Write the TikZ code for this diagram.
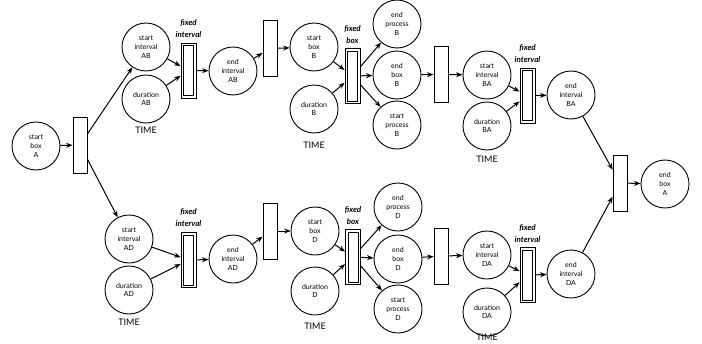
\documentclass[tikz,border=0pt]{standalone}
\usepackage{fontspec}
\setmainfont{Lato}
\usetikzlibrary{arrows.meta}
\begin{document}
\begin{tikzpicture}[x=1pt,y=-1pt,
  place/.style={circle, draw, line width=0.9pt, minimum size=48pt, inner sep=0pt, align=center, font=\fontsize{7}{8.8}\selectfont},
  trans/.style={rectangle, draw, line width=0.8pt, minimum width=14pt, minimum height=56pt, inner sep=0pt},
  fixedt/.style={rectangle, draw, line width=0.8pt, minimum width=15pt, minimum height=55pt, inner sep=0pt,
    path picture={\draw[line width=0.8pt] ([shift={(2.6pt,2.6pt)}]path picture bounding box.south west) rectangle ([shift={(-2.6pt,-2.6pt)}]path picture bounding box.north east);}},
  lbl/.style={font=\bfseries\itshape\fontsize{8}{12}\selectfont, align=center, inner sep=0pt},
  timel/.style={font=\fontsize{9}{10}\selectfont, inner sep=0pt},
  arr/.style={-{Stealth[length=6.5pt,width=5pt]}, line width=1pt}]
\useasboundingbox (0,0) rectangle (702,343);
% top row
\node[place] (sbA) at (36,146) {start\\box\\A};
\node[trans] (t1) at (80,145) {};
\node[place] (siAB) at (146,47) {start\\interval\\AB};
\node[place] (dAB) at (146,99) {duration\\AB};
\node[timel] (timeAB) at (146,130) {TIME};
\node[fixedt] (fAB) at (188.5,70.5) {};
\node[lbl] (lAB) at (188.5,29) {fixed\\interval};
\node[place] (eiAB) at (233,71) {end\\interval\\AB};
\node[trans] (t2) at (270,48.5) {};
\node[place] (sbB) at (314,47) {start\\box\\B};
\node[place] (dB) at (314,109) {duration\\B};
\node[timel] (timeB) at (314,145) {TIME};
\node[fixedt] (fB) at (352.5,76) {};
\node[lbl] (lB) at (352.5,34.5) {fixed\\box};
\node[place] (epB) at (397,24) {end\\process\\B};
\node[place] (ebB) at (397,75) {end\\box\\B};
\node[place] (spB) at (397,125) {start\\process\\B};
\node[trans] (t3) at (441,74.5) {};
\node[place] (siBA) at (487,75) {start\\interval\\BA};
\node[place] (dBA) at (487,126) {duration\\BA};
\node[timel] (timeBA) at (487,159) {TIME};
\node[fixedt] (fBA) at (527.5,95.5) {};
\node[lbl] (lBA) at (527.5,54) {fixed\\interval};
\node[place] (eiBA) at (571,95) {end\\interval\\BA};
\node[trans] (tf) at (620,183) {};
\node[place] (ebA) at (665,184) {end\\box\\A};
% bottom row
\node[place] (siAD) at (129,239) {start\\interval\\AD};
\node[place] (dAD) at (129,290) {duration\\AD};
\node[timel] (timeAD) at (129,322) {TIME};
\node[fixedt] (fAD) at (188.5,260) {};
\node[lbl] (lAD) at (188.5,217.5) {fixed\\interval};
\node[place] (eiAD) at (233,259) {end\\interval\\AD};
\node[trans] (t4) at (270,231) {};
\node[place] (sbD) at (315,231) {start\\box\\D};
\node[place] (dD) at (315,291) {duration\\D};
\node[timel] (timeD) at (315,326) {TIME};
\node[fixedt] (fD) at (353,257) {};
\node[lbl] (lD) at (353,216) {fixed\\box};
\node[place] (epD) at (398,207) {end\\process\\D};
\node[place] (ebD) at (398,259) {end\\box\\D};
\node[place] (spD) at (398,309) {start\\process\\D};
\node[trans] (t5) at (441,256) {};
\node[place] (siDA) at (487,255) {start\\interval\\DA};
\node[place] (dDA) at (487,312) {duration\\DA};
\node[timel] (timeDA) at (487,337) {TIME};
\node[fixedt] (fDA) at (527.5,275) {};
\node[lbl] (lDA) at (527.5,234) {fixed\\interval};
\node[place] (eiDA) at (571,274) {end\\interval\\DA};
% arcs
\draw[arr] (sbA) -- (t1);
\draw[arr] (t1) -- (siAB);
\draw[arr] (t1) -- (siAD);
\draw[arr] (siAB) -- (fAB);
\draw[arr] (dAB) -- (fAB);
\draw[arr] (fAB) -- (eiAB);
\draw[arr] (eiAB) -- (t2);
\draw[arr] (t2) -- (sbB);
\draw[arr] (sbB) -- (fB);
\draw[arr] (dB) -- (fB);
\draw[arr] (fB) -- (epB);
\draw[arr] (fB) -- (ebB);
\draw[arr] (fB) -- (spB);
\draw[arr] (ebB) -- (t3);
\draw[arr] (t3) -- (siBA);
\draw[arr] (siBA) -- (fBA);
\draw[arr] (dBA) -- (fBA);
\draw[arr] (fBA) -- (eiBA);
\draw[arr] (eiBA) -- (tf);
\draw[arr] (siAD) -- (fAD);
\draw[arr] (dAD) -- (fAD);
\draw[arr] (fAD) -- (eiAD);
\draw[arr] (eiAD) -- (t4);
\draw[arr] (t4) -- (sbD);
\draw[arr] (sbD) -- (fD);
\draw[arr] (dD) -- (fD);
\draw[arr] (fD) -- (epD);
\draw[arr] (fD) -- (ebD);
\draw[arr] (fD) -- (spD);
\draw[arr] (ebD) -- (t5);
\draw[arr] (t5) -- (siDA);
\draw[arr] (siDA) -- (fDA);
\draw[arr] (dDA) -- (fDA);
\draw[arr] (fDA) -- (eiDA);
\draw[arr] (eiDA) -- (tf);
\draw[arr] (tf) -- (ebA);
\end{tikzpicture}
\end{document}
